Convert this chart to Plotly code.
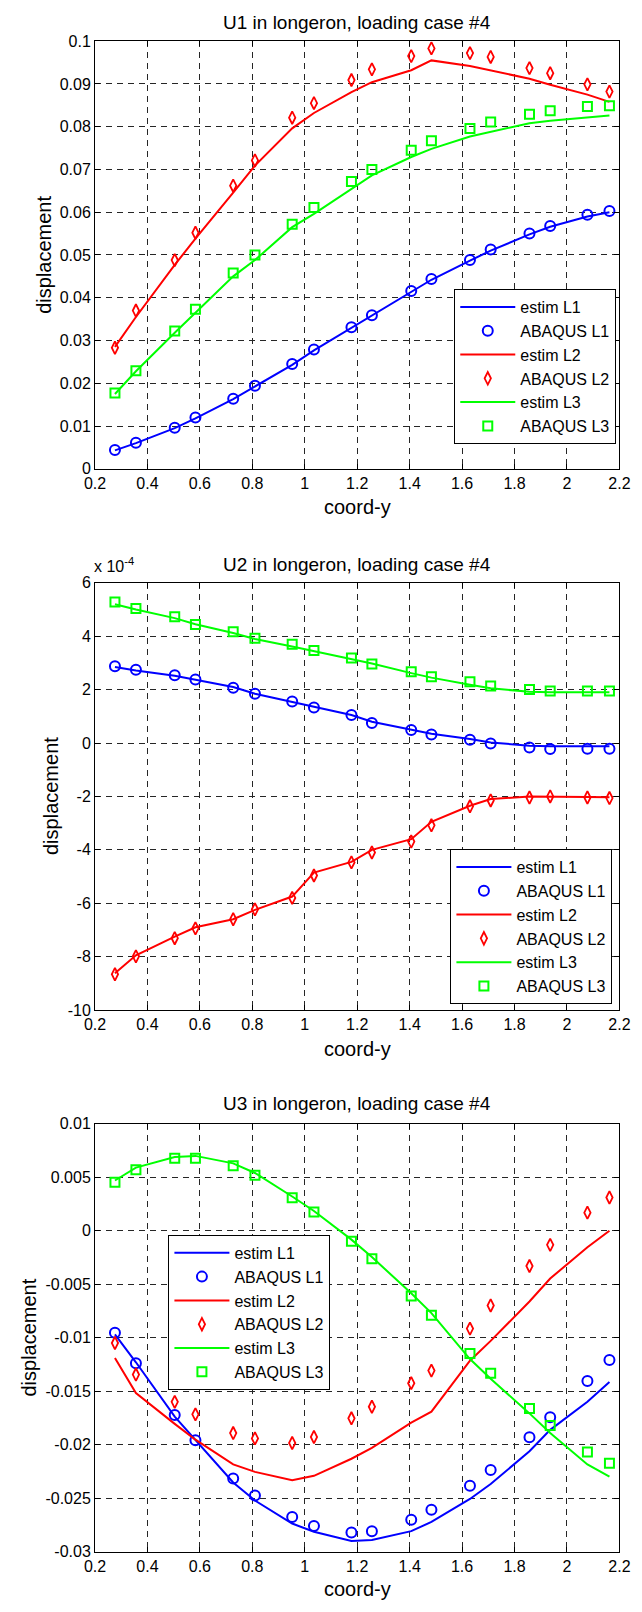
import plotly.graph_objects as go

# ---------------- data ----------------
x_coord = [0.276, 0.356, 0.504, 0.583, 0.727, 0.810, 0.952, 1.035, 1.178,
           1.256, 1.406, 1.483, 1.630, 1.709, 1.857, 1.936, 2.078, 2.162]

series_names = ["estim L1", "ABAQUS L1", "estim L2", "ABAQUS L2", "estim L3", "ABAQUS L3"]

# U1
u1_estim_L1 = [0.0043, 0.0060, 0.0095, 0.0118, 0.0163, 0.0192, 0.0243, 0.0277, 0.0330,
               0.0358, 0.0413, 0.0442, 0.0487, 0.0510, 0.0548, 0.0566, 0.0590, 0.0600]
u1_abaqus_L1 = [0.0044, 0.0061, 0.0096, 0.0120, 0.0164, 0.0194, 0.0245, 0.0279, 0.0331,
                0.0359, 0.0416, 0.0444, 0.0488, 0.0513, 0.0550, 0.0568, 0.0594, 0.0603]
u1_estim_L2 = [0.0285, 0.0355, 0.0477, 0.0538, 0.0646, 0.0709, 0.0796, 0.0832, 0.0881,
               0.0904, 0.0932, 0.0955, 0.0942, 0.0932, 0.0912, 0.0898, 0.0875, 0.0858]
u1_abaqus_L2 = [0.0283, 0.0370, 0.0488, 0.0552, 0.0662, 0.0721, 0.0821, 0.0855, 0.0909,
                0.0934, 0.0965, 0.0983, 0.0972, 0.0963, 0.0937, 0.0925, 0.0899, 0.0882]
u1_estim_L3 = [0.0175, 0.0228, 0.0318, 0.0365, 0.0450, 0.0488, 0.0565, 0.0596, 0.0654,
               0.0686, 0.0729, 0.0748, 0.0777, 0.0788, 0.0808, 0.0814, 0.0821, 0.0826]
u1_abaqus_L3 = [0.0177, 0.0229, 0.0322, 0.0373, 0.0458, 0.0500, 0.0572, 0.0611, 0.0672,
                0.0700, 0.0745, 0.0767, 0.0796, 0.0811, 0.0829, 0.0837, 0.0847, 0.0849]

# U2 (in units of 1e-4)
u2_estim_L1 = [2.85, 2.72, 2.52, 2.38, 2.10, 1.85, 1.55, 1.35, 1.05,
               0.80, 0.50, 0.35, 0.15, 0.02, -0.10, -0.12, -0.12, -0.12]
u2_abaqus_L1 = [2.88, 2.75, 2.54, 2.38, 2.07, 1.85, 1.56, 1.33, 1.05,
                0.75, 0.49, 0.32, 0.12, -0.02, -0.17, -0.22, -0.21, -0.21]
u2_estim_L2 = [-8.62, -7.95, -7.25, -6.90, -6.60, -6.25, -5.75, -4.85, -4.45,
               -4.00, -3.60, -2.95, -2.35, -2.10, -2.00, -2.00, -2.02, -2.03]
u2_abaqus_L2 = [-8.66, -7.99, -7.31, -6.94, -6.60, -6.23, -5.80, -4.96, -4.47,
                -4.10, -3.69, -3.08, -2.37, -2.15, -2.04, -2.00, -2.04, -2.06]
u2_estim_L3 = [5.20, 5.00, 4.68, 4.45, 4.12, 3.90, 3.62, 3.45, 3.15,
               2.98, 2.62, 2.45, 2.18, 2.05, 1.92, 1.90, 1.90, 1.90]
u2_abaqus_L3 = [5.28, 5.04, 4.73, 4.44, 4.17, 3.93, 3.70, 3.47, 3.19,
                2.96, 2.67, 2.48, 2.30, 2.14, 2.01, 1.95, 1.95, 1.95]

# U3
u3_estim_L1 = [-0.0097, -0.0123, -0.01738, -0.01954, -0.02354, -0.02523, -0.02738, -0.02815, -0.02902,
               -0.02892, -0.02809, -0.02723, -0.02508, -0.02369, -0.02062, -0.01862, -0.0160, -0.01415]
u3_abaqus_L1 = [-0.00955, -0.0124, -0.01723, -0.0196, -0.02317, -0.02477, -0.02677, -0.0276, -0.02822,
                -0.0281, -0.02702, -0.02609, -0.02385, -0.02237, -0.01932, -0.01745, -0.01406, -0.01209]
u3_estim_L2 = [-0.0119, -0.01517, -0.01806, -0.01954, -0.02185, -0.02255, -0.02332, -0.02292, -0.02132,
               -0.02031, -0.01794, -0.01692, -0.01215, -0.0103, -0.00662, -0.00447, -0.00154, 0.0]
u3_abaqus_L2 = [-0.0105, -0.01345, -0.0160, -0.01717, -0.01892, -0.01942, -0.01985, -0.01929, -0.01754,
                -0.01646, -0.01425, -0.01308, -0.00915, -0.00699, -0.0033, -0.00132, 0.00169, 0.00311]
u3_estim_L3 = [0.0047, 0.0059, 0.0069, 0.0070, 0.0063, 0.0054, 0.0032, 0.00185, -0.00083,
               -0.00246, -0.00585, -0.0077, -0.0120, -0.01385, -0.01708, -0.01892, -0.02185, -0.0230]
u3_abaqus_L3 = [0.00453, 0.0057, 0.00678, 0.00678, 0.00607, 0.0052, 0.00308, 0.00176, -0.00099,
                -0.00262, -0.0061, -0.0079, -0.01148, -0.01332, -0.01662, -0.01822, -0.02068, -0.02175]

x_ticks = [0.2, 0.4, 0.6, 0.8, 1.0, 1.2, 1.4, 1.6, 1.8, 2.0, 2.2]
x_ticklabels = ["0.2", "0.4", "0.6", "0.8", "1", "1.2", "1.4", "1.6", "1.8", "2", "2.2"]
y1_ticks = [0, 0.01, 0.02, 0.03, 0.04, 0.05, 0.06, 0.07, 0.08, 0.09, 0.1]
y1_ticklabels = ["0", "0.01", "0.02", "0.03", "0.04", "0.05", "0.06", "0.07", "0.08", "0.09", "0.1"]
y2_ticks = [-10, -8, -6, -4, -2, 0, 2, 4, 6]
y2_ticklabels = ["-10", "-8", "-6", "-4", "-2", "0", "2", "4", "6"]
y3_ticks = [-0.03, -0.025, -0.02, -0.015, -0.01, -0.005, 0, 0.005, 0.01]
y3_ticklabels = ["-0.03", "-0.025", "-0.02", "-0.015", "-0.01", "-0.005", "0", "0.005", "0.01"]

titles = ["U1 in longeron, loading case #4", "U2 in longeron, loading case #4",
          "U3 in longeron, loading case #4"]

# ---------------- figure ----------------
W, H = 642, 1612
FONT = "Arial, 'Liberation Sans', Helvetica, sans-serif"
colors = ["#0000FF", "#FF0000", "#00FF00"]
symbols = ["circle-open", "diamond-tall-open", "square-open"]
msizes = [10, 9, 9]
mwidths = [2, 1.8, 2]

panels = [
    ([u1_estim_L1, u1_abaqus_L1, u1_estim_L2, u1_abaqus_L2, u1_estim_L3, u1_abaqus_L3],
     y1_ticks, y1_ticklabels, [0, 0.1]),
    ([u2_estim_L1, u2_abaqus_L1, u2_estim_L2, u2_abaqus_L2, u2_estim_L3, u2_abaqus_L3],
     y2_ticks, y2_ticklabels, [-10, 6]),
    ([u3_estim_L1, u3_abaqus_L1, u3_estim_L2, u3_abaqus_L2, u3_estim_L3, u3_abaqus_L3],
     y3_ticks, y3_ticklabels, [-0.03, 0.01]),
]

# pixel layout (top, bottom) of each axes box
x_left, x_right = 87, 630
boxes = [(33.5, 465.7), (581, 1012.7), (1127.7, 1560)]
title_y = [15, 562, 1107]
xlabel_y = [504, 1052, 1598]
ylabel_x = [34, 42, 18.5]
legend_pos = [(459, 284), (455, 850), (163, 1240)]

def px_x(p):
    return p / W

def px_y(p):
    return 1 - p / H

fig = go.Figure()
annotations = []
for i, (ys, yt, ytl, yr) in enumerate(panels):
    sfx = "" if i == 0 else str(i + 1)
    leg = "legend" if i == 0 else "legend" + str(i + 1)
    for k in range(6):
        c = colors[k // 2]
        if k % 2 == 0:
            fig.add_trace(go.Scatter(x=x_coord, y=ys[k], mode="lines", name=series_names[k],
                                     line=dict(color=c, width=2),
                                     xaxis="x" + sfx, yaxis="y" + sfx, legend=leg))
        else:
            fig.add_trace(go.Scatter(x=x_coord, y=ys[k], mode="markers", name=series_names[k],
                                     marker=dict(symbol=symbols[k // 2], size=msizes[k // 2],
                                                 color=c, line=dict(color=c, width=mwidths[k // 2])),
                                     xaxis="x" + sfx, yaxis="y" + sfx, legend=leg))
    top, bot = boxes[i]
    axis_common = dict(showgrid=True, gridcolor="#262626", gridwidth=1, griddash="6px,5px",
                       showline=True, linecolor="black", linewidth=1, mirror="ticks",
                       ticks="inside", ticklen=5, tickcolor="black", zeroline=False,
                       tickfont=dict(size=16, color="black", family=FONT))
    fig.update_layout(**{
        "xaxis" + sfx: dict(domain=[px_x(x_left), px_x(x_right)], range=[0.2, 2.2],
                            tickvals=x_ticks, ticktext=x_ticklabels,
                            anchor="y" + sfx, **axis_common),
        "yaxis" + sfx: dict(domain=[px_y(bot), px_y(top)], range=yr,
                            tickvals=yt, ticktext=ytl,
                            anchor="x" + sfx, **axis_common),
        leg: dict(x=px_x(legend_pos[i][0]), y=px_y(legend_pos[i][1]), xanchor="left", yanchor="top",
                  xref="paper", yref="paper",
                  bgcolor="white", bordercolor="black", borderwidth=1,
                  font=dict(size=16, color="black", family=FONT),
                  itemwidth=55, tracegroupgap=0),
    })
    xc = px_x((x_left + x_right) / 2)
    annotations.append(dict(text=titles[i], x=xc, y=px_y(title_y[i]), xref="paper", yref="paper",
                            xanchor="center", yanchor="middle", showarrow=False,
                            font=dict(size=19, color="black", family=FONT)))
    annotations.append(dict(text="coord-y", x=xc, y=px_y(xlabel_y[i]), xref="paper", yref="paper",
                            xanchor="center", yanchor="middle", showarrow=False,
                            font=dict(size=20, color="black", family=FONT)))
    annotations.append(dict(text="displacement", x=px_x(ylabel_x[i]), y=px_y((top + bot) / 2),
                            xref="paper", yref="paper", textangle=-90,
                            xanchor="center", yanchor="middle", showarrow=False,
                            font=dict(size=20, color="black", family=FONT)))

annotations.append(dict(text="x 10<sup>-4</sup>", x=px_x(84), y=px_y(563), xref="paper", yref="paper",
                        xanchor="left", yanchor="middle", showarrow=False,
                        font=dict(size=16, color="black", family=FONT)))

fig.update_layout(width=W, height=H, margin=dict(l=0, r=0, t=0, b=0),
                  paper_bgcolor="white", plot_bgcolor="white",
                  annotations=annotations, showlegend=True,
                  font=dict(family=FONT, color="black"))

fig.write_html("out.html")
